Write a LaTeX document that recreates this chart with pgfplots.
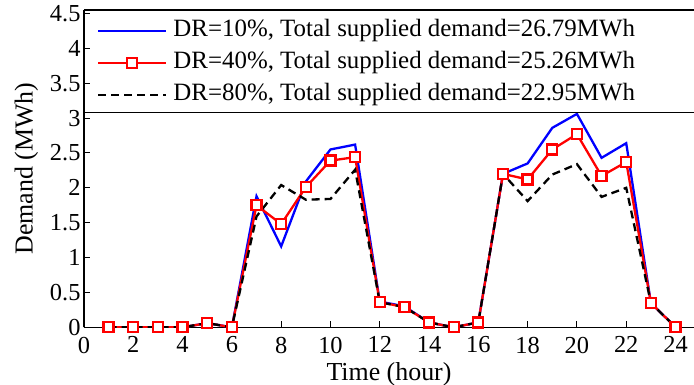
\documentclass[border=0pt]{standalone}
\usepackage{fontspec}
\setmainfont{Liberation Serif}
\newfontfamily\tnr{Liberation Serif}
\usepackage{pgfplots}
\pgfplotsset{compat=1.18}
\begin{document}
\begin{tikzpicture}
\useasboundingbox (-84bp,-57.7bp) rectangle (610bp,327.3bp);
\begin{axis}[
  at={(0,0)}, anchor=south west,
  scale only axis,
  width=610bp, height=317.3bp,
  xmin=0, xmax=24.75, ymin=0, ymax=4.55,
  xtick={0,2,...,24},
  xticklabels={0,2,4,6,8,10,12,14,16,18,20,22,24},
  ytick={0,0.5,...,4.5},
  yticklabels={0,0.5,1,1.5,2,2.5,3,3.5,4,4.5},
  xtick pos=bottom, ytick pos=left,
  tick align=inside,
  major tick length=6bp,
  axis y line*=left,
  axis line style={line width=1.1bp, black},
  tick style={line width=1bp, black},
  font=\tnr\fontsize{25}{29}\selectfont,
  ticklabel style={font=\tnr\fontsize{24.5}{28}\selectfont},
  /pgf/number format/assume math mode=true,
  xticklabel style={yshift=-6bp},
  xlabel={Time (hour)},
  ylabel={Demand (MWh)},
  xlabel style={font=\tnr\fontsize{26}{30}\selectfont, yshift=-2bp},
  ylabel style={font=\tnr\fontsize{26}{30}\selectfont, yshift=5bp},
  legend cell align=left,
  legend image code/.code={
    \draw[mark repeat=2, mark phase=2, #1] plot coordinates {(0bp,0bp) (34bp,0bp) (68bp,0bp)};
  },
  legend style={
    at={(0,1)}, anchor=north west, xshift=13bp, yshift=-9bp,
    draw=none, fill=none, inner xsep=0pt, inner ysep=0pt,
    row sep=9bp, column sep=3bp,
    font=\tnr\fontsize{25}{29}\selectfont,
    nodes={inner ysep=0pt, inner xsep=3bp, text height=17bp, text depth=6bp},
  },
]
\addplot[blue, line width=2.3bp] coordinates {
(1,0) (2,0) (3,0) (4,0) (5,0.06) (6,0) (7,1.88) (8,1.16) (9,2.09) (10,2.55) (11,2.62) (12,0.37)
(13,0.30) (14,0.07) (15,0) (16,0.07) (17,2.20) (18,2.35) (19,2.86) (20,3.06) (21,2.43) (22,2.64) (23,0.35) (24,0)};
\addlegendentry{DR=10\%, Total supplied demand=26.79MWh}
\addplot[red, line width=2.3bp, mark=square*, mark size=5bp, mark options={fill=white, solid, line width=2.3bp}] coordinates {
(1,0) (2,0) (3,0) (4,0) (5,0.06) (6,0) (7,1.75) (8,1.48) (9,2.01) (10,2.39) (11,2.44) (12,0.36)
(13,0.29) (14,0.07) (15,0) (16,0.07) (17,2.20) (18,2.12) (19,2.55) (20,2.77) (21,2.17) (22,2.37) (23,0.35) (24,0)};
\addlegendentry{DR=40\%, Total supplied demand=25.26MWh}
\addplot[black, line width=2.3bp, dash pattern=on 8bp off 5bp] coordinates {
(1,0) (2,0) (3,0) (4,0) (5,0.06) (6,0) (7,1.59) (8,2.04) (9,1.83) (10,1.84) (11,2.26) (12,0.36)
(13,0.29) (14,0.07) (15,0) (16,0.07) (17,2.20) (18,1.81) (19,2.19) (20,2.34) (21,1.87) (22,2.00) (23,0.35) (24,0)};
\addlegendentry{DR=80\%, Total supplied demand=22.95MWh}
\draw[black, line width=1.1bp] (axis cs:0,3.075) -- (axis cs:24.75,3.075);
\end{axis}
\end{tikzpicture}
\end{document}
